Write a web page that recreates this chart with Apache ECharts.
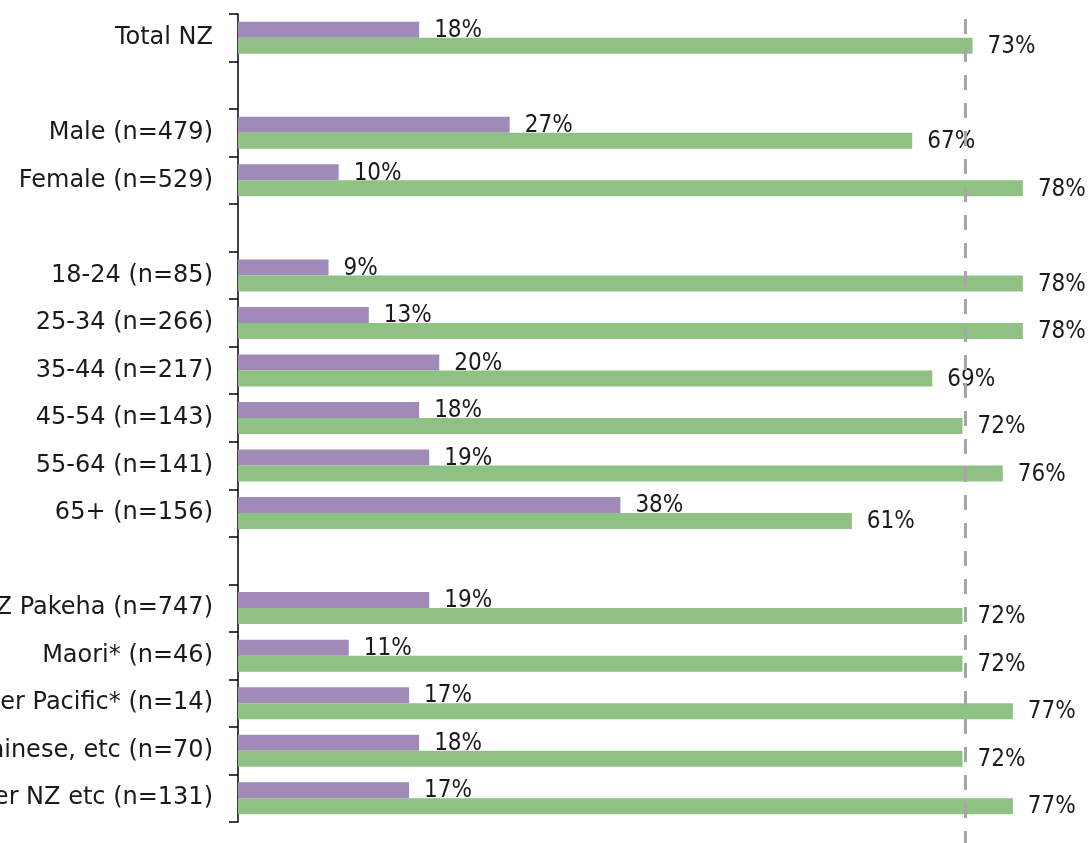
<!DOCTYPE html>
<html>
<head>
<meta charset="utf-8">
<script src="https://cdn.jsdelivr.net/npm/echarts@6/dist/echarts.min.js"></script>
<style>html,body{margin:0;padding:0;background:#fff;}#c{width:1091px;height:843px;}</style>
</head>
<body>
<div id="c"></div>
<script>
var categories = ['Total NZ', '', 'Male (n=479)', 'Female (n=529)', '', '18-24 (n=85)', '25-34 (n=266)', '35-44 (n=217)', '45-54 (n=143)', '55-64 (n=141)', '65+ (n=156)', '', 'European/NZ Pakeha (n=747)', 'Maori* (n=46)', 'Other Pacific* (n=14)', 'Indian, Chinese, etc (n=70)', 'Other NZ etc (n=131)'];
var purpleValues = [18, null, 27, 10, null, 9, 13, 20, 18, 19, 38, null, 19, 11, 17, 18, 17];
var greenValues = [73, null, 67, 78, null, 78, 78, 69, 72, 76, 61, null, 72, 72, 77, 72, 77];
var referenceLine = 72.3;

var chart = echarts.init(document.getElementById('c'), null, {renderer: 'canvas'});
var labelStyle = {
  show: true, position: 'right', distance: 15, offset: [0, 1],
  formatter: function (p) { return p.value + '%'; },
  fontFamily: 'DejaVu Sans Condensed', fontSize: 24, color: '#1a1a1a'
};
chart.setOption({
  animation: false,
  backgroundColor: '#ffffff',
  grid: [
    {left: 238, top: 14, height: 808, width: 805, containLabel: false, outerBoundsMode: 'none'},
    {left: 238, top: 19, bottom: 0, width: 805, containLabel: false, outerBoundsMode: 'none'}
  ],
  xAxis: [
    {gridIndex: 0, type: 'value', min: 0, max: 80, show: false, splitLine: {show: false}},
    {gridIndex: 1, type: 'value', min: 0, max: 80, show: false, splitLine: {show: false}}
  ],
  yAxis: [
    {
      gridIndex: 0, type: 'category', data: categories, inverse: true,
      axisLine: {show: true, lineStyle: {color: '#000', width: 1.5}},
      axisTick: {show: true, length: 9, interval: 0, lineStyle: {color: '#000', width: 1.5}},
      axisLabel: {interval: 0, margin: 25, fontFamily: 'DejaVu Sans', fontSize: 24, color: '#1a1a1a'},
      splitLine: {show: false}
    },
    {gridIndex: 1, type: 'value', min: 0, max: 1, show: false, splitLine: {show: false}}
  ],
  series: [
    {
      type: 'bar', xAxisIndex: 0, yAxisIndex: 0, data: purpleValues,
      barWidth: 16, barGap: '0%',
      itemStyle: {color: '#A08AB8'}, label: labelStyle
    },
    {
      type: 'bar', xAxisIndex: 0, yAxisIndex: 0, data: greenValues,
      barWidth: 16, barGap: '0%',
      itemStyle: {color: '#8EC183'}, label: labelStyle
    },
    {
      type: 'line', xAxisIndex: 1, yAxisIndex: 1, z: 20,
      data: [[referenceLine, 1], [referenceLine, 0]],
      symbol: 'none', silent: true,
      lineStyle: {color: '#A6A6A6', width: 3, type: [15, 13]}
    }
  ]
});
</script>
</body>
</html>
